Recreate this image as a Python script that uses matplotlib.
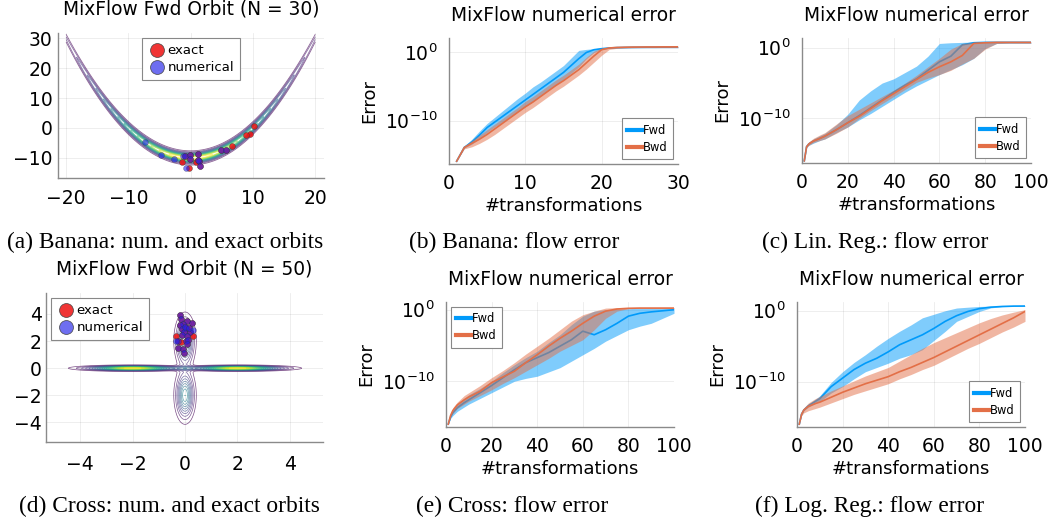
"""
MixFlow figure: orbit scatter plots (banana / cross) and flow error panels.
Values were read off the reference figure (error curves stored as log10).
"""
import numpy as np
import matplotlib.pyplot as plt
from matplotlib.lines import Line2D

plt.rcParams["mathtext.fontset"] = "dejavusans"
plt.rcParams["font.family"] = "DejaVu Sans"

W, H = 1055, 525
FWD_C = "#009AFA"
BWD_C = "#E36F47"

# ---- banana orbit (N = 30) ----
banana_exact_x = [10.2, 9.5, 8.9, 6.7, -1.4, -0.3, 0.9, -0.9, -0.05, 1.1, 1.4, 1.55, -0.05, 4.9, 5.6, 1.2]
banana_exact_y = [0.5, -1.9, -2.4, -6.1, -11.4, -13.3, -11.4, -9.4, -8.9, -8.6, -11.0, -12.8, -10.3, -7.2, -7.4, -10.8]
banana_num_x = [-7.4, -4.8, -2.6, -0.75, -1.2, -0.9, -0.05, 1.1, 1.4, 1.55, -0.05, 4.9, 5.6, 1.2]
banana_num_y = [-4.7, -8.9, -10.2, -13.3, -9.4, -9.4, -8.9, -8.6, -11.0, -12.8, -10.3, -7.2, -7.4, -10.8]
BANANA_B, BANANA_SX = 0.1, 10.0

# ---- cross orbit (N = 50) ----
cross_exact_x = [-0.19, -0.15, 0.06, 0.25, -0.06, -0.21, -0.13, 0.04, 0.19, -0.03, -0.13, 0.09,
                 -0.25, 0.04, 0.12, -0.28, -0.06, -0.03, 0.08, -0.34, 0.29, -0.17, 0.0, 0.15]
cross_exact_y = [3.95, 3.6, 3.45, 3.33, 3.28, 3.2, 2.9, 2.96, 2.7, 2.64, 2.47, 2.39,
                 1.97, 1.97, 2.1, 1.48, 1.4, 1.11, 1.8, 2.34, 2.39, 1.9, 3.05, 3.0]
cross_num_x = [-0.19, -0.15, 0.06, 0.25, -0.06, -0.21, -0.13, 0.04, 0.19, -0.03, -0.13, 0.09,
               -0.25, 0.04, 0.12, -0.28, -0.06, -0.03, 0.08, 0.29, -0.34, 0.0, 0.15]
cross_num_y = [3.95, 3.6, 3.45, 3.33, 3.28, 3.2, 2.9, 2.96, 2.7, 2.64, 2.47, 2.39,
               1.97, 1.97, 2.1, 1.48, 1.4, 1.11, 1.8, 2.79, 1.97, 3.05, 3.0]
CROSS_MEANS = [(0, 2), (-2, 0), (2, 0), (0, -2)]
CROSS_SDS = [(0.2, 1.0), (1.0, 0.1), (1.0, 0.1), (0.2, 1.0)]

# ---- (b) banana flow error, log10 ----
steps_b = list(range(1, 31))
b_fwd_med = [-15.9, -13.9, -13.1, -12.1, -11.0, -10.2, -9.4, -8.6, -7.8, -7.0, -6.2, -5.4, -4.6, -3.8, -3.0,
             -2.0, -1.0, -0.1, 0.3, 0.45, 0.55, 0.6, 0.62, 0.64, 0.65, 0.66, 0.66, 0.67, 0.67, 0.68]
b_fwd_lo = [-15.9, -14.0, -13.4, -12.6, -11.7, -10.9, -10.2, -9.5, -8.7, -8.0, -7.2, -6.4, -5.6, -4.8, -4.0,
            -3.1, -2.2, -1.0, -0.1, 0.35, 0.5, 0.55, 0.57, 0.58, 0.58, 0.58, 0.58, 0.58, 0.58, 0.58]
b_fwd_hi = [-15.9, -13.7, -12.7, -11.5, -10.4, -9.5, -8.6, -7.7, -6.8, -6.0, -5.1, -4.4, -3.6, -2.8, -2.0,
            -0.9, 0.2, 0.35, 0.45, 0.55, 0.62, 0.68, 0.7, 0.72, 0.74, 0.75, 0.76, 0.77, 0.78, 0.78]
b_bwd_med = [-15.9, -13.9, -13.3, -12.7, -12.0, -11.2, -10.4, -9.6, -8.8, -8.0, -7.3, -6.5, -5.7, -4.9, -4.2,
             -3.4, -2.6, -1.6, -0.6, 0.3, 0.55, 0.63, 0.66, 0.68, 0.69, 0.7, 0.7, 0.71, 0.71, 0.72]
b_bwd_lo = [-15.9, -14.1, -13.8, -13.3, -12.7, -12.0, -11.2, -10.4, -9.6, -8.8, -8.1, -7.3, -6.5, -5.7, -5.0,
            -4.2, -3.4, -2.5, -1.5, -0.5, 0.35, 0.5, 0.55, 0.58, 0.6, 0.6, 0.6, 0.6, 0.6, 0.6]
b_bwd_hi = [-15.9, -13.7, -12.9, -12.1, -11.3, -10.5, -9.7, -8.9, -8.1, -7.2, -6.5, -5.7, -4.9, -4.1, -3.4,
            -2.6, -1.8, -0.8, 0.1, 0.55, 0.7, 0.75, 0.78, 0.8, 0.8, 0.81, 0.82, 0.82, 0.83, 0.83]

# ---- (c), (e), (f): 100 transformations, log10 ----
steps_100 = [1, 2, 3, 5, 8, 10, 15, 20, 25, 30, 35, 40, 45, 50, 55, 60, 65, 70, 75, 80, 85, 90, 95, 100]

c_fwd_med = [-16.0, -14.0, -13.6, -13.2, -12.8, -12.5, -11.6, -10.6, -9.6, -8.5, -7.4, -6.3, -5.3, -4.4, -3.2,
             -2.0, -1.2, 0.4, 0.7, 0.75, 0.75, 0.75, 0.75, 0.75]
c_fwd_lo = [-16.0, -14.1, -13.8, -13.5, -13.1, -12.9, -12.0, -11.2, -10.2, -9.3, -8.3, -7.3, -6.3, -5.4, -4.6,
            -3.8, -3.1, -2.4, -1.5, -0.1, 0.6, 0.65, 0.65, 0.65]
c_fwd_hi = [-16.0, -13.9, -13.4, -12.9, -12.4, -12.1, -10.9, -9.4, -7.4, -6.1, -5.0, -4.4, -3.5, -2.6, -1.2,
            0.6, 0.7, 0.75, 0.8, 0.8, 0.8, 0.8, 0.8, 0.8]
c_bwd_med = [-16.0, -14.0, -13.6, -13.2, -12.8, -12.5, -11.6, -10.6, -9.7, -8.6, -7.5, -6.5, -5.5, -4.5, -3.5,
             -2.7, -2.0, -1.1, 0.6, 0.7, 0.75, 0.75, 0.75, 0.75]
c_bwd_lo = [-16.0, -14.1, -13.8, -13.4, -13.1, -12.9, -12.1, -11.2, -10.0, -8.9, -7.9, -6.9, -5.9, -4.9, -4.3,
            -3.8, -3.2, -2.3, -1.5, -0.2, 0.6, 0.65, 0.65, 0.65]
c_bwd_hi = [-16.0, -13.9, -13.3, -12.8, -12.3, -12.0, -10.8, -9.6, -8.7, -7.8, -6.9, -6.0, -5.0, -3.9, -2.7,
            -1.5, -0.2, 0.6, 0.75, 0.8, 0.8, 0.8, 0.8, 0.8]

e_fwd_med = [-16.0, -15.0, -14.4, -13.7, -13.0, -12.6, -11.6, -10.6, -9.5, -8.4, -7.4, -6.7, -6.0, -5.1, -4.2,
             -3.0, -3.5, -2.8, -1.9, -0.9, -0.5, -0.3, -0.15, 0.0]
e_fwd_lo = [-16.0, -15.2, -14.8, -14.2, -13.6, -13.2, -12.4, -11.6, -10.8, -10.0, -9.6, -9.3, -8.7, -8.1, -7.2,
            -6.3, -5.4, -4.4, -3.6, -2.8, -2.3, -1.9, -1.2, -0.5]
e_fwd_hi = [-16.0, -14.6, -14.0, -13.2, -12.4, -11.9, -11.0, -10.0, -8.8, -7.7, -6.7, -5.8, -4.6, -3.5, -2.1,
            -0.9, -0.2, 0.0, 0.1, 0.15, 0.2, 0.2, 0.2, 0.2]
e_bwd_med = [-16.0, -14.8, -14.1, -13.3, -12.6, -12.2, -11.4, -10.2, -9.4, -8.6, -7.4, -6.3, -5.1, -4.0, -3.0,
             -1.9, -0.9, -0.2, 0.1, 0.2, 0.23, 0.23, 0.23, 0.23]
e_bwd_lo = [-16.0, -15.0, -14.5, -13.8, -13.2, -12.8, -12.0, -11.2, -10.3, -9.5, -8.6, -7.7, -6.8, -5.8, -5.0,
            -4.2, -2.8, -1.2, -0.2, 0.15, 0.18, 0.18, 0.18, 0.18]
e_bwd_hi = [-16.0, -14.5, -13.7, -12.9, -12.0, -11.6, -10.6, -9.5, -8.5, -7.4, -6.2, -5.1, -4.0, -2.8, -1.6,
            -0.7, -0.2, 0.23, 0.28, 0.3, 0.3, 0.3, 0.3, 0.3]

f_fwd_med = [-16.0, -14.6, -14.0, -13.4, -12.8, -12.4, -10.7, -9.5, -8.3, -7.4, -6.7, -5.8, -4.8, -4.1, -3.4,
             -2.5, -1.5, -0.7, -0.1, 0.3, 0.5, 0.6, 0.65, 0.66]
f_fwd_lo = [-16.0, -14.7, -14.1, -13.6, -13.1, -12.8, -11.6, -10.7, -9.6, -8.6, -8.0, -7.4, -6.7, -6.2, -5.5,
            -4.2, -2.9, -1.5, -0.8, -0.1, 0.4, 0.57, 0.6, 0.6]
f_fwd_hi = [-16.0, -14.5, -13.9, -13.2, -12.5, -12.0, -10.1, -8.6, -7.3, -6.2, -5.0, -3.9, -2.9, -2.0, -1.0,
            -0.5, 0.0, 0.38, 0.5, 0.6, 0.65, 0.68, 0.7, 0.7]
f_bwd_med = [-16.0, -14.6, -14.0, -13.5, -13.1, -12.9, -12.2, -11.5, -10.9, -10.3, -9.8, -9.3, -8.6, -8.0, -7.3,
             -6.6, -5.8, -5.0, -4.2, -3.4, -2.6, -1.8, -1.0, -0.1]
f_bwd_lo = [-16.0, -14.8, -14.4, -14.1, -13.8, -13.6, -13.0, -12.4, -11.8, -11.3, -10.8, -10.3, -9.6, -9.0, -8.3,
            -7.7, -6.9, -6.1, -5.3, -4.6, -3.8, -3.0, -2.3, -1.5]
f_bwd_hi = [-16.0, -14.4, -13.7, -13.0, -12.4, -12.1, -11.3, -10.6, -9.9, -9.2, -8.6, -8.0, -7.1, -6.2, -5.3,
            -4.5, -3.8, -3.1, -2.4, -1.7, -1.1, -0.6, -0.2, 0.15]

captions = ["(a) Banana: num. and exact orbits", "(b) Banana: flow error", "(c) Lin. Reg.: flow error",
            "(d) Cross: num. and exact orbits", "(e) Cross: flow error", "(f) Log. Reg.: flow error"]
caption_xy = [(165, 242), (514, 242), (875, 242), (169, 506), (512, 506), (870, 506)]

fig = plt.figure(figsize=(W / 100, H / 100), dpi=100)


def px_axes(left, top, right, bottom):
    return fig.add_axes([left / W, 1 - bottom / H, (right - left) / W, (bottom - top) / H])


def style(ax, xpad=6, ypad=4):
    for s in ("top", "right"):
        ax.spines[s].set_visible(False)
    for s in ("left", "bottom"):
        ax.spines[s].set_color("#8a8a8a")
        ax.spines[s].set_linewidth(1.0)
    ax.grid(True, color="black", alpha=0.08, lw=0.6)
    ax.set_axisbelow(True)
    ax.tick_params(axis="x", length=0, labelsize=13.5, pad=xpad)
    ax.tick_params(axis="y", length=0, labelsize=13.5, pad=ypad)


def orbit_panel(ax, ex, ey, nx, ny, title, legend_loc):
    ax.scatter(ex, ey, s=18, color="#EE1111", alpha=0.85, edgecolor="#333333", linewidth=0.3, zorder=3)
    ax.scatter(nx, ny, s=18, color="#2222EE", alpha=0.6, edgecolor="#333333", linewidth=0.3, zorder=4)
    ax.set_title(title, fontsize=13.4, pad=13)
    handles = [Line2D([], [], ls="", marker="o", ms=10, mfc="#EE1111", mec="#444444", mew=0.6, alpha=0.85),
               Line2D([], [], ls="", marker="o", ms=10, mfc="#5555EE", mec="#444444", mew=0.6, alpha=0.85)]
    leg = ax.legend(handles, ["exact", "numerical"], loc=legend_loc, fontsize=9.5, fancybox=False,
                    framealpha=1, edgecolor="#888888", handletextpad=0.15, borderpad=0.45,
                    labelspacing=0.3, handlelength=1.3, borderaxespad=0.4)
    leg.get_frame().set_linewidth(0.8)


def error_panel(ax, x, fm, fl, fh, bm, bl, bh, xmax, xticks, ylims, legend_loc):
    ax.fill_between(x, 10.0 ** np.array(fl), 10.0 ** np.array(fh), color=FWD_C, alpha=0.5, lw=0, zorder=2)
    ax.plot(x, 10.0 ** np.array(fm), color=FWD_C, lw=1.2, zorder=3)
    ax.fill_between(x, 10.0 ** np.array(bl), 10.0 ** np.array(bh), color=BWD_C, alpha=0.5, lw=0, zorder=4)
    ax.plot(x, 10.0 ** np.array(bm), color=BWD_C, lw=1.2, zorder=5)
    ax.set_yscale("log")
    ax.set_xlim(0, xmax)
    ax.set_ylim(10.0 ** ylims[0], 10.0 ** ylims[1])
    ax.set_xticks(xticks)
    ax.set_yticks([1e-10, 1.0])
    ax.set_yticklabels([r"$10^{-10}$", r"$10^{0}$"])
    ax.minorticks_off()
    ax.set_title("MixFlow numerical error", fontsize=13.4, pad=12)
    ax.set_xlabel("#transformations", fontsize=13, labelpad=3)
    ax.set_ylabel("Error", fontsize=13, labelpad=5)
    handles = [Line2D([], [], color=FWD_C, lw=3), Line2D([], [], color=BWD_C, lw=3)]
    leg = ax.legend(handles, ["Fwd", "Bwd"], loc=legend_loc, fontsize=8.3, fancybox=False, framealpha=1,
                    edgecolor="#888888", handlelength=1.3, handletextpad=0.05, borderpad=0.5,
                    labelspacing=0.35, borderaxespad=0.4)
    leg.get_frame().set_linewidth(0.8)


# (a) banana orbit
ax = px_axes(58, 33, 324, 178)
style(ax, xpad=8, ypad=4)
gx, gy = np.meshgrid(np.linspace(-20, 20, 401), np.linspace(-15, 32, 471))
dens = np.exp(-gx ** 2 / (2 * BANANA_SX ** 2) - (gy - BANANA_B * gx ** 2 + 100 * BANANA_B) ** 2 / 2)
ax.contour(gx, gy, dens, levels=np.linspace(0.06, 0.94, 15), cmap="viridis", linewidths=0.6,
           alpha=0.6, zorder=2)
orbit_panel(ax, banana_exact_x, banana_exact_y, banana_num_x, banana_num_y,
            "MixFlow Fwd Orbit (N = 30)", "upper center")
ax.set_xlim(-21.3, 21.4)
ax.set_ylim(-16.7, 31.7)
ax.set_xticks([-20, -10, 0, 10, 20])
ax.set_yticks([-10, 0, 10, 20, 30])

# (d) cross orbit
ax = px_axes(46, 293, 323, 442)
style(ax, xpad=9, ypad=3)
gx, gy = np.meshgrid(np.linspace(-5, 5, 501), np.linspace(-5, 5, 501))
dens = np.zeros_like(gx)
for (mx, my), (sx, sy) in zip(CROSS_MEANS, CROSS_SDS):
    dens += np.exp(-(gx - mx) ** 2 / (2 * sx ** 2) - (gy - my) ** 2 / (2 * sy ** 2)) / (sx * sy)
ax.contour(gx, gy, dens, levels=np.linspace(0.05, 0.95, 19) * dens.max(), cmap="viridis",
           linewidths=0.5, alpha=0.7, zorder=2)
orbit_panel(ax, cross_exact_x, cross_exact_y, cross_num_x, cross_num_y,
            "MixFlow Fwd Orbit (N = 50)", "upper left")
ax.set_xlim(-5.3, 5.26)
ax.set_ylim(-5.45, 5.55)
ax.set_xticks([-4, -2, 0, 2, 4])
ax.set_yticks([-4, -2, 0, 2, 4])

# (b)
ax = px_axes(449, 38, 678, 164)
style(ax, xpad=7, ypad=8)
error_panel(ax, steps_b, b_fwd_med, b_fwd_lo, b_fwd_hi, b_bwd_med, b_bwd_lo, b_bwd_hi,
            30, [0, 10, 20, 30], (-16.3, 2.0), "lower right")

# (c)
ax = px_axes(802, 38, 1031, 163)
style(ax, xpad=7, ypad=8)
error_panel(ax, steps_100, c_fwd_med, c_fwd_lo, c_fwd_hi, c_bwd_med, c_bwd_lo, c_bwd_hi,
            100, [0, 20, 40, 60, 80, 100], (-16.3, 1.37), "lower right")

# (e)
ax = px_axes(446, 302, 674, 427)
style(ax, xpad=7, ypad=8)
error_panel(ax, steps_100, e_fwd_med, e_fwd_lo, e_fwd_hi, e_bwd_med, e_bwd_lo, e_bwd_hi,
            100, [0, 20, 40, 60, 80, 100], (-16.4, 1.08), "upper left")

# (f)
ax = px_axes(797, 302, 1025, 427)
style(ax, xpad=7, ypad=8)
error_panel(ax, steps_100, f_fwd_med, f_fwd_lo, f_fwd_hi, f_bwd_med, f_bwd_lo, f_bwd_hi,
            100, [0, 20, 40, 60, 80, 100], (-16.4, 1.23), "lower right")

for text, (cx, cy) in zip(captions, caption_xy):
    fig.text(cx / W, 1 - cy / H, text, ha="center", va="center", fontsize=16.8, family="Liberation Serif")

fig.savefig("out.png", dpi=100)
